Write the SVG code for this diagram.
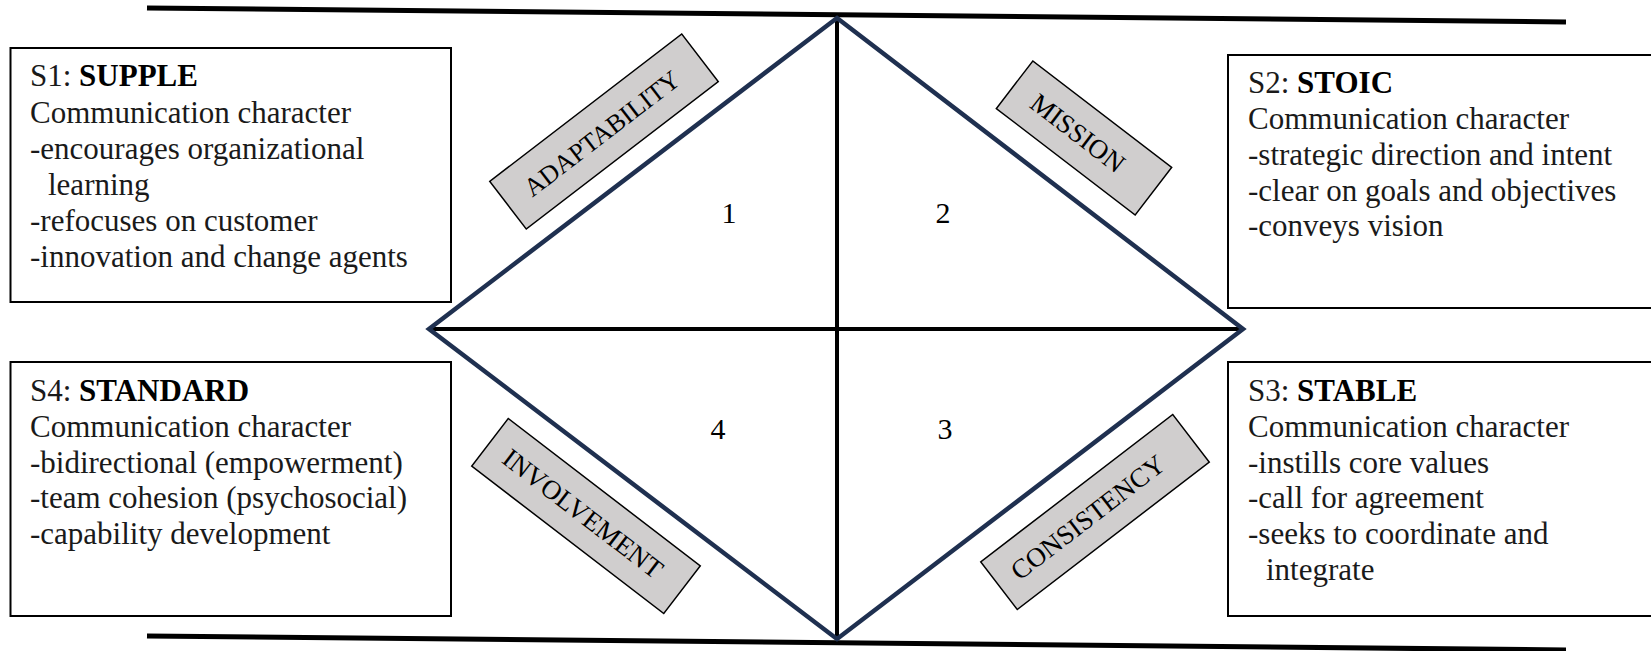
<svg xmlns="http://www.w3.org/2000/svg" width="1651" height="651" viewBox="0 0 1651 651">
<style>
.box{fill:#fff;stroke:#000;stroke-width:2}
.txt{font-family:"Liberation Serif","Times New Roman",serif;font-size:31px;fill:#1a1a1a}
.b{font-weight:bold;fill:#000}
.lab rect{fill:#d0cece;stroke:#000;stroke-width:1.5}
.lab text{font-family:"Liberation Serif","Times New Roman",serif;font-size:27px;fill:#000;text-anchor:middle}
.num{font-family:"Liberation Serif","Times New Roman",serif;font-size:30px;fill:#000;text-anchor:middle}
.rule{stroke:#000;stroke-width:5;stroke-linecap:butt}
.cross{stroke:#000;stroke-width:4;fill:none}
.dia{stroke:#1f3050;stroke-width:4.5;fill:none;stroke-linejoin:miter}
</style>
<rect width="1651" height="651" fill="#fff"/>
<g id="connectors">
<line class="rule" x1="147" y1="8" x2="1566" y2="22"/>
<line class="rule" x1="147" y1="636" x2="1566" y2="650"/>
<line class="cross" x1="429" y1="329" x2="1243" y2="329"/>
<line class="cross" x1="837" y1="18" x2="837" y2="639"/>
<polygon class="dia" points="837,18 1243,329 837,639 429,329"/>
</g>
<g id="numbers">
<text class="num" x="729" y="223">1</text>
<text class="num" x="943" y="223">2</text>
<text class="num" x="945" y="439">3</text>
<text class="num" x="718" y="439">4</text>
</g>
<g id="s1">
<rect class="box" x="10.5" y="48" width="440.5" height="254"/>
<text class="txt" x="30" y="86">S1: <tspan class="b">SUPPLE</tspan></text>
<text class="txt" x="30" y="123">Communication character</text>
<text class="txt" x="30" y="159">-encourages organizational</text>
<text class="txt" x="48" y="195">learning</text>
<text class="txt" x="30" y="231">-refocuses on customer</text>
<text class="txt" x="30" y="267">-innovation and change agents</text>
</g>
<g id="s2">
<rect class="box" x="1228" y="55" width="440" height="253"/>
<text class="txt" x="1248" y="93">S2: <tspan class="b">STOIC</tspan></text>
<text class="txt" x="1248" y="129">Communication character</text>
<text class="txt" x="1248" y="165">-strategic direction and intent</text>
<text class="txt" x="1248" y="201">-clear on goals and objectives</text>
<text class="txt" x="1248" y="236">-conveys vision</text>
</g>
<g id="s4">
<rect class="box" x="10.5" y="362" width="440.5" height="254"/>
<text class="txt" x="30" y="401">S4: <tspan class="b">STANDARD</tspan></text>
<text class="txt" x="30" y="437">Communication character</text>
<text class="txt" x="30" y="473">-bidirectional (empowerment)</text>
<text class="txt" x="30" y="508">-team cohesion (psychosocial)</text>
<text class="txt" x="30" y="544">-capability development</text>
</g>
<g id="s3">
<rect class="box" x="1228" y="362" width="440" height="254"/>
<text class="txt" x="1248" y="401">S3: <tspan class="b">STABLE</tspan></text>
<text class="txt" x="1248" y="437">Communication character</text>
<text class="txt" x="1248" y="473">-instills core values</text>
<text class="txt" x="1248" y="508">-call for agreement</text>
<text class="txt" x="1248" y="544">-seeks to coordinate and</text>
<text class="txt" x="1266" y="580">integrate</text>
</g>
<g id="adaptability" class="lab" transform="translate(604,131.5) rotate(-37.5)">
<rect x="-121" y="-30" width="242" height="60"/>
<text x="-3" y="9" style="font-size:26px">ADAPTABILITY</text>
</g>
<g id="mission" class="lab" transform="translate(1084,138) rotate(37.5)">
<rect x="-87.5" y="-30" width="175" height="60"/>
<text x="-8" y="9">MISSION</text>
</g>
<g id="involvement" class="lab" transform="translate(586,516) rotate(37.5)">
<rect x="-121" y="-30" width="242" height="60"/>
<text x="-4" y="9">INVOLVEMENT</text>
</g>
<g id="consistency" class="lab" transform="translate(1095,512) rotate(-37.5)">
<rect x="-121" y="-30" width="242" height="60"/>
<text x="-9" y="9">CONSISTENCY</text>
</g>
</svg>
